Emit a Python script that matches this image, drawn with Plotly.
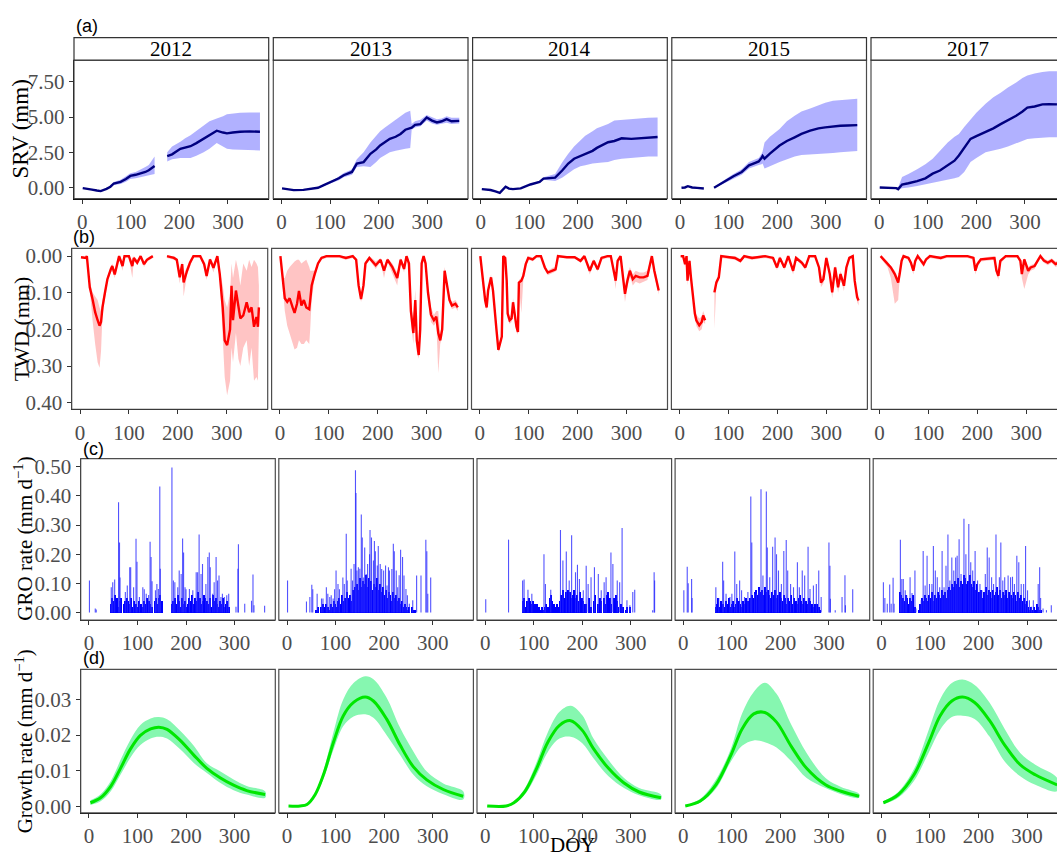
import plotly.graph_objects as go

W, H = 1080, 860
years = ["2012", "2013", "2014", "2015", "2017"]

# ---------------- (a) SRV ----------------
srv_doy_2012 = [1, 10, 20, 30, 38, 50, 58, 65, 79, 90, 99, 110, 120, 130, 137, 149, 160, 175, 185, 202, 212, 223, 235, 250, 262, 277, 290, 298, 310, 325, 345, 366]
srv_mean_2012 = [-0.05, -0.08, -0.15, -0.22, -0.26, -0.1, 0.05, 0.28, 0.4, 0.6, 0.82, 0.9, 0.98, 1.1, 1.22, 1.52, None, 2.23, 2.35, 2.74, 2.85, 2.93, 3.15, 3.45, 3.7, 4.03, 3.9, 3.84, 3.9, 3.96, 3.98, 3.96]
srv_lo_2012 = [-0.08, -0.1, -0.17, -0.24, -0.28, -0.13, 0.0, 0.18, 0.25, 0.4, 0.6, 0.65, 0.7, 0.78, 0.85, 0.95, None, 1.85, 2.0, 2.1, 2.1, 2.1, 2.25, 2.5, 2.75, 3.15, 2.9, 2.75, 2.7, 2.65, 2.65, 2.63]
srv_hi_2012 = [-0.02, -0.05, -0.12, -0.2, -0.23, -0.07, 0.1, 0.38, 0.55, 0.8, 1.0, 1.1, 1.25, 1.45, 1.6, 2.2, None, 2.5, 2.9, 3.25, 3.5, 3.7, 4.0, 4.4, 4.7, 4.9, 5.05, 5.2, 5.25, 5.3, 5.32, 5.32]

srv_doy_2013 = [1, 25, 45, 60, 75, 87, 100, 108, 118, 128, 140, 145, 155, 169, 183, 195, 203, 213, 223, 235, 245, 255, 265, 268, 275, 286, 299, 310, 320, 330, 340, 350, 366]
srv_mean_2013 = [-0.07, -0.19, -0.17, -0.12, -0.02, 0.16, 0.35, 0.47, 0.65, 0.87, 1.0, 1.1, 1.69, 1.8, 2.39, 2.7, 2.98, 3.2, 3.45, 3.6, 3.8, 4.1, 4.2, 4.25, 4.45, 4.5, 4.97, 4.75, 4.62, 4.7, 4.85, 4.7, 4.73]
srv_lo_2013 = [-0.09, -0.21, -0.19, -0.14, -0.05, 0.12, 0.28, 0.38, 0.52, 0.72, 0.85, 0.9, 1.45, 1.5, 1.45, 1.8, 2.1, 2.3, 2.5, 2.6, 2.7, 2.75, 2.8, 4.1, 4.25, 4.35, 4.75, 4.55, 4.45, 4.5, 4.6, 4.5, 4.55]
srv_hi_2013 = [-0.05, -0.17, -0.15, -0.1, 0.01, 0.2, 0.42, 0.56, 0.78, 1.02, 1.2, 1.3, 2.0, 2.5, 3.2, 3.7, 4.0, 4.25, 4.5, 4.8, 5.0, 5.3, 5.44, 4.5, 4.7, 4.8, 5.15, 5.0, 4.85, 4.9, 5.05, 4.95, 4.95]

srv_doy_2014 = [2, 20, 30, 39, 51, 58, 66, 82, 102, 121, 129, 140, 153, 168, 180, 192, 205, 215, 230, 239, 250, 262, 275, 290, 310, 325, 345, 364]
srv_mean_2014 = [-0.12, -0.18, -0.28, -0.38, 0.05, -0.08, -0.12, -0.07, 0.21, 0.4, 0.63, 0.65, 0.7, 1.22, 1.7, 2.04, 2.25, 2.39, 2.6, 2.81, 3.0, 3.21, 3.3, 3.49, 3.45, 3.49, 3.52, 3.58]
srv_lo_2014 = [-0.15, -0.21, -0.31, -0.41, 0.02, -0.11, -0.15, -0.1, 0.18, 0.33, 0.55, 0.5, 0.45, 0.7, 1.0, 1.3, 1.5, 1.57, 1.7, 1.75, 1.78, 1.8, 1.95, 2.04, 2.1, 2.15, 2.2, 2.2]
srv_hi_2014 = [-0.09, -0.15, -0.25, -0.35, 0.08, -0.05, -0.09, -0.04, 0.24, 0.47, 0.72, 0.82, 0.95, 1.8, 2.4, 2.9, 3.35, 3.68, 4.0, 4.2, 4.35, 4.5, 4.75, 4.8, 4.85, 4.9, 4.95, 4.97]

srv_doy_2015 = [3, 10, 16, 25, 35, 49, 60, 70, 80, 95, 110, 127, 142, 155, 162, 168, 170, 174, 185, 205, 220, 236, 250, 268, 285, 299, 315, 330, 345, 365]
srv_mean_2015 = [-0.02, 0.0, 0.09, 0.0, -0.03, -0.07, None, -0.02, 0.2, 0.52, 0.8, 1.1, 1.57, 1.75, 1.85, 2.1, 2.23, 2.04, 2.4, 2.98, 3.3, 3.56, 3.8, 4.03, 4.2, 4.27, 4.35, 4.38, 4.4, 4.43]
srv_lo_2015 = [-0.04, -0.02, 0.07, -0.02, -0.05, -0.09, None, -0.05, 0.12, 0.4, 0.62, 0.9, 1.35, 1.5, 1.6, 1.65, 1.7, 1.34, 1.5, 1.8, 2.0, 2.2, 2.3, 2.35, 2.4, 2.4, 2.45, 2.5, 2.55, 2.58]
srv_hi_2015 = [0.0, 0.02, 0.11, 0.02, -0.01, -0.05, None, 0.02, 0.28, 0.62, 0.95, 1.3, 1.8, 2.0, 2.1, 2.4, 2.55, 3.2, 3.6, 4.15, 4.7, 5.1, 5.4, 5.6, 5.85, 6.02, 6.15, 6.2, 6.25, 6.3]

srv_doy_2017 = [1, 20, 35, 39, 47, 60, 78, 95, 110, 125, 141, 155, 164, 175, 188, 200, 219, 235, 250, 265, 282, 295, 305, 320, 336, 350, 366]
srv_mean_2017 = [0.0, 0.0, -0.05, -0.12, 0.21, 0.3, 0.45, 0.65, 0.98, 1.2, 1.57, 1.9, 2.27, 2.8, 3.45, 3.65, 3.92, 4.2, 4.5, 4.75, 5.09, 5.4, 5.67, 5.75, 5.9, 5.92, 5.9]
srv_lo_2017 = [-0.03, -0.03, -0.08, -0.15, -0.05, 0.0, 0.1, 0.2, 0.28, 0.4, 0.55, 0.65, 0.75, 1.1, 1.8, 2.1, 2.5, 2.65, 2.74, 2.9, 3.1, 3.3, 3.45, 3.5, 3.55, 3.56, 3.56]
srv_hi_2017 = [0.03, 0.03, 0.0, 0.0, 0.75, 0.95, 1.3, 1.65, 2.04, 2.6, 3.2, 3.6, 3.8, 4.3, 4.85, 5.3, 5.95, 6.4, 6.72, 7.1, 7.45, 7.78, 7.95, 8.1, 8.2, 8.25, 8.25]

# ---------------- (b) TWD ----------------
twd_doy_2012 = [2, 12, 14, 17, 20, 26, 31, 36, 40, 43, 46, 51, 56, 63, 66, 71, 77, 80, 87, 91, 100, 107, 110, 117, 124, 131, 137, 144, 149, 160, 178, 192, 198, 204, 209, 212, 219, 225, 232, 246, 254, 259, 266, 273, 281, 286, 292, 296, 301, 307, 310, 313, 319, 324, 328, 334, 341, 346, 351, 356, 361, 364, 366]
twd_mean_2012 = [.003, .005, .000, .040, .085, .120, .153, .175, .190, .180, .140, .100, .063, .036, .027, .050, .013, .000, .027, .000, .000, .027, .005, .018, .000, .022, .010, .005, .000, None, .000, .005, .010, .058, .022, .072, .040, .018, .000, .000, .022, .054, .009, .032, .000, .050, .140, .230, .243, .200, .081, .175, .094, .130, .170, .162, .126, .153, .140, .193, .166, .193, .140]
twd_min_2012 = [.000, .002, .000, .030, .070, .100, .110, .120, .140, .150, .120, .090, .055, .030, .020, .040, .005, .000, .015, .000, .000, .015, .000, .010, .000, .015, .005, .000, .000, None, .000, .000, .005, .040, .015, .050, .030, .010, .000, .000, .015, .040, .005, .020, .000, .040, .080, .120, .140, .100, .020, .060, .010, .040, .080, .020, .040, .010, .030, .010, .020, .030, .080]
twd_max_2012 = [.006, .008, .004, .050, .100, .180, .240, .290, .305, .260, .160, .110, .070, .045, .040, .060, .020, .005, .040, .005, .005, .060, .010, .025, .005, .030, .015, .010, .005, None, .005, .010, .015, .075, .030, .110, .050, .030, .005, .005, .030, .065, .015, .045, .005, .060, .220, .330, .380, .340, .250, .290, .210, .280, .300, .250, .230, .300, .250, .340, .330, .340, .200]

twd_doy_2013 = [1, 4, 7, 10, 15, 20, 26, 30, 35, 39, 44, 49, 54, 60, 62, 65, 71, 78, 85, 95, 122, 135, 149, 156, 161, 166, 171, 175, 183, 196, 206, 213, 220, 230, 240, 247, 254, 259, 264, 268, 273, 277, 280, 284, 287, 290, 294, 298, 303, 309, 315, 320, 324, 328, 332, 335, 337, 342, 347, 352, 359, 364]
twd_mean_2013 = [.000, .040, .085, .115, .125, .115, .140, .155, .130, .095, .135, .120, .140, .145, .120, .080, .050, .020, .005, .000, .000, .005, .000, .010, .080, .117, .080, .020, .005, .025, .010, .040, .010, .030, .060, .010, .035, .000, .020, .150, .210, .120, .230, .270, .200, .020, .000, .020, .100, .160, .175, .165, .210, .230, .200, .080, .040, .080, .120, .135, .130, .140]
twd_min_2013 = [.000, .020, .060, .060, .040, .030, .020, .015, .010, .010, .020, .015, .010, .030, .040, .040, .040, .015, .000, .000, .000, .000, .000, .005, .070, .105, .070, .015, .000, .015, .005, .030, .005, .020, .045, .005, .025, .000, .010, .120, .180, .090, .200, .240, .170, .010, .000, .010, .080, .140, .160, .150, .150, .210, .180, .060, .030, .070, .110, .125, .120, .130]
twd_max_2013 = [.005, .060, .110, .150, .190, .210, .240, .255, .250, .230, .240, .240, .230, .240, .200, .120, .060, .025, .010, .005, .005, .010, .005, .015, .090, .125, .090, .025, .010, .035, .015, .060, .015, .045, .080, .015, .045, .005, .040, .180, .240, .150, .260, .280, .230, .030, .005, .030, .120, .180, .190, .180, .320, .240, .220, .100, .050, .090, .130, .145, .140, .150]

twd_doy_2014 = [1, 5, 8, 11, 14, 17, 20, 23, 27, 30, 34, 38, 41, 45, 48, 52, 55, 57, 61, 65, 68, 71, 75, 78, 80, 85, 89, 94, 99, 108, 116, 125, 133, 139, 149, 155, 160, 178, 194, 206, 214, 225, 233, 241, 249, 261, 268, 274, 278, 282, 288, 293, 297, 302, 307, 313, 319, 327, 335, 343, 348, 352, 357, 362, 366]
twd_mean_2014 = [.000, .040, .085, .121, .140, .094, .072, .058, .094, .148, .200, .256, .243, .220, .000, .005, .067, .157, .175, .170, .126, .157, .193, .207, .072, .067, .054, .022, .005, .009, .000, .000, .031, .045, .039, .036, .000, .003, .003, .013, .000, .040, .013, .036, .005, .000, .000, .040, .067, .013, .000, .058, .103, .067, .040, .063, .054, .058, .058, .054, .022, .000, .040, .067, .094]
twd_min_2014 = [.000, .030, .075, .110, .130, .085, .065, .050, .085, .140, .190, .245, .235, .210, .000, .000, .055, .145, .165, .160, .115, .145, .180, .195, .065, .060, .045, .015, .000, .004, .000, .000, .025, .040, .032, .030, .000, .000, .000, .008, .000, .030, .008, .030, .000, .000, .000, .030, .050, .008, .000, .040, .080, .050, .030, .050, .040, .045, .045, .040, .015, .000, .030, .055, .085]
twd_max_2014 = [.005, .050, .095, .130, .150, .105, .080, .065, .105, .155, .210, .262, .250, .230, .005, .010, .080, .170, .185, .180, .135, .170, .205, .215, .080, .155, .065, .030, .010, .014, .005, .005, .038, .052, .046, .042, .005, .006, .006, .018, .005, .050, .020, .042, .010, .005, .005, .050, .090, .020, .005, .075, .125, .085, .055, .080, .070, .075, .070, .065, .030, .005, .050, .080, .105]

twd_doy_2015 = [2, 7, 11, 14, 16, 20, 23, 27, 31, 34, 40, 45, 48, 52, 60, 71, 75, 80, 85, 113, 124, 132, 148, 175, 191, 199, 205, 214, 222, 232, 238, 250, 257, 265, 277, 285, 289, 294, 300, 307, 312, 318, 324, 329, 336, 341, 347, 354, 358, 363, 366]
twd_mean_2015 = [.000, .000, .022, .000, .067, .013, .058, .112, .157, .175, .189, .180, .162, .175, None, .099, .072, .058, .000, .005, .013, .000, .005, .000, .005, .031, .005, .031, .000, .040, .005, .018, .031, .000, .000, .031, .072, .063, .005, .049, .099, .031, .085, .049, .081, .031, .005, .000, .067, .112, .121]
twd_min_2015 = [.000, .000, .015, .000, .055, .008, .050, .100, .145, .160, .170, .165, .150, .165, None, .090, .065, .050, .000, .000, .008, .000, .000, .000, .000, .025, .000, .025, .000, .030, .000, .012, .025, .000, .000, .025, .060, .050, .000, .040, .085, .025, .070, .040, .070, .025, .000, .000, .055, .100, .110]
twd_max_2015 = [.005, .005, .030, .005, .080, .018, .065, .125, .170, .190, .205, .200, .180, .185, None, .198, .080, .065, .005, .010, .018, .005, .010, .005, .010, .038, .010, .038, .005, .050, .010, .025, .038, .005, .005, .038, .085, .075, .010, .060, .115, .040, .100, .060, .095, .040, .010, .005, .080, .125, .135]

twd_doy_2017 = [2, 8, 16, 23, 31, 38, 41, 45, 49, 59, 64, 69, 73, 78, 90, 95, 103, 125, 137, 156, 180, 192, 196, 200, 207, 235, 239, 243, 247, 258, 282, 288, 291, 296, 304, 309, 317, 325, 329, 336, 344, 352, 360, 366]
twd_mean_2017 = [.000, .009, .022, .031, .049, .072, .049, .013, .000, .005, .018, .040, .013, .000, .022, .009, .000, .005, .000, .000, .000, .005, .040, .022, .009, .005, .040, .054, .013, .000, .000, .013, .049, .009, .040, .031, .027, .009, .000, .012, .018, .012, .022, .018]
twd_min_2017 = [.000, .005, .015, .025, .040, .060, .040, .008, .000, .000, .012, .030, .008, .000, .015, .005, .000, .000, .000, .000, .000, .000, .030, .015, .005, .000, .030, .045, .008, .000, .000, .008, .040, .005, .030, .025, .020, .005, .000, .006, .012, .006, .015, .012]
twd_max_2017 = [.005, .015, .030, .060, .130, .120, .060, .020, .005, .010, .025, .050, .020, .005, .030, .015, .005, .010, .005, .005, .005, .010, .050, .030, .015, .010, .050, .065, .020, .005, .005, .020, .060, .090, .050, .040, .035, .015, .005, .018, .025, .018, .030, .025]

# ---------------- (c) GRO rate ----------------
gro_spike_doy_2012 = [1, 13, 15, 46, 49, 53, 61, 63, 64, 75, 79, 84, 86, 92, 97, 99, 104, 111, 114, 118, 123, 126, 128, 130, 137, 140, 143, 146, 147, 171, 174, 177, 183, 186, 190, 193, 195, 198, 200, 207, 214, 221, 224, 227, 231, 234, 241, 245, 248, 250, 255, 258, 262, 265, 268, 272, 275, 279, 284, 288, 303, 307, 308, 321, 335, 338, 340, 362]
gro_spike_val_2012 = [.11, .014, .01, .087, .104, .113, .378, .24, .12, .07, .093, .155, .155, .087, .253, .174, .053, .087, .08, .064, .06, .243, .19, .107, .076, .098, .081, .432, .15, .498, .11, .104, .087, .144, .132, .254, .206, .087, .08, .081, .076, .138, .138, .268, .132, .166, .098, .19, .206, .155, .064, .104, .19, .11, .127, .053, .064, .053, .059, .064, .02, .15, .234, .03, .04, .13, .025, .023]
gro_base_start_2012 = [45, 171]
gro_base_val_2012 = [
    [.03, .05, .04, .06, .05, .02, .04, .05, 0, .03, .04, .05, .04, .03, .05, .02, .04, .03, .02, .04, 0, .03, .02, .04, .03, .05, .04, .03, .02, 0, .04, .05, .03, .05, .06, .04],
    [.03, .04, .05, .03, .06, .04, .02, .05, .03, .04, .02, .03, .05, .04, .06, .03, .05, .04, .07, .05, .03, .04, .06, .05, .04, .03, .05, .02, .06, .04, .05, .03, .02, .04, .03, .05, .02, .03, .04, .02],
]

gro_spike_doy_2013 = [1, 40, 47, 51, 53, 62, 71, 74, 81, 84, 88, 91, 95, 98, 101, 105, 108, 115, 118, 122, 124, 132, 135, 138, 141, 142, 144, 147, 150, 153, 155, 158, 160, 163, 166, 170, 171, 174, 178, 180, 182, 186, 188, 192, 195, 199, 203, 206, 209, 211, 216, 219, 221, 225, 228, 231, 234, 238, 241, 245, 248, 252, 259, 267, 276, 286, 288, 290, 296]
gro_spike_val_2013 = [.11, .038, .053, .095, .08, .064, .048, .048, .087, .064, .053, .059, .048, .08, .144, .098, .08, .12, .098, .27, .11, .15, .11, .166, .488, .41, .144, .155, .15, .336, .257, .12, .223, .132, .166, .2, .283, .257, .178, .245, .21, .161, .228, .166, .149, .144, .161, .093, .155, .144, .149, .236, .21, .144, .087, .128, .215, .19, .127, .081, .059, .03, .042, .127, .127, .25, .21, .064, .12]
gro_base_start_2013 = [60]
gro_base_val_2013 = [
    [.01, .02, .0, .02, .01, .03, .02, .03, .02, .01, .03, .02, .04, .03, .02,
     .04, .05, .03, .06, .04, .05, .07, .05, .06, .04, .08, .07, .09,
     .1, .08, .12, .09, .11, .1, .13, .09, .12, .1, .11, .08, .1, .09, .12, .08, .1, .07, .09, .06,
     .08, .05, .07, .06, .04, .07, .05, .06, .04, .05, .03, .04, .02, .03, .02, .01, .02, .0, .02, .01, .01],
]

gro_spike_doy_2014 = [1, 48, 77, 80, 88, 96, 121, 124, 135, 155, 160, 167, 173, 178, 186, 190, 194, 202, 208, 212, 218, 225, 233, 239, 245, 249, 259, 263, 272, 277, 282, 292, 298, 304, 308, 345, 348, 349]
gro_spike_val_2014 = [.045, .25, .11, .113, .078, .064, .2, .098, .078, .283, .178, .209, .11, .265, .138, .164, .115, .076, .16, .098, .121, .155, .132, .076, .104, .121, .206, .166, .11, .104, .29, .042, .025, .07, .078, .008, .138, .11]
gro_base_start_2014 = [78, 133, 209]
gro_base_val_2014 = [
    [.04, .05, .02, .04, .05, .04, .03, .04, .03, .02, .03, .02, .01, .02, .01, .02, .03, .02],
    [.05, .06, .04, .03, .02, .03, .02, .04, .06, .08, .05, .07, .06, .08, .07, .05, .06, .08, .05, .06, .04, .07, .05, .04, .03],
    [.03, 0, .05, .02, 0, .04, .06, 0, .03, .05, .04, 0, .05, .03, .06, .07, .05, .03, 0, .05, .06, .04, .02, 0, .03, .02, 0, .01, .02, 0, .02],
]

gro_spike_doy_2015 = [1, 8, 10, 17, 18, 67, 73, 81, 83, 88, 96, 100, 106, 110, 116, 120, 126, 133, 139, 141, 147, 151, 156, 160, 164, 171, 173, 178, 184, 189, 192, 196, 202, 207, 212, 215, 221, 227, 235, 239, 245, 250, 257, 261, 268, 274, 279, 284, 300, 302, 303, 313, 327, 333, 334, 349]
gro_spike_val_2015 = [.076, .157, .1, .115, .05, .087, .05, .174, .11, .064, .053, .064, .209, .098, .11, .076, .053, .07, .398, .24, .064, .064, .076, .423, .127, .415, .223, .121, .226, .257, .2, .144, .098, .211, .249, .144, .098, .087, .172, .087, .144, .127, .226, .081, .093, .098, .144, .053, .24, .16, .047, .008, .053, .128, .025, .08]
gro_base_start_2015 = [67]
gro_base_val_2015 = [
    [.02, .03, .05, .02, .04, .03, .02, .04, .03, .05, .02, .03, .04, .02, .03, .05, .04, .03, .02, .04, .03, .05, .04, .03, .05,
     .06, .05, .07, .08, .06, .09, .07, .08, .06, .09, .07, .08, .06, .05, .07, .06, .08, .05, .06, .07,
     .05, .04, .06, .05, .03, .05, .04, .06, .03, .05, .04, .03, .05, .06, .04, .03, .05, .04, .03, .05, .04, .03, .02, .03, .02, .03, .02, .01],
]

gro_spike_doy_2017 = [4, 7, 12, 17, 20, 24, 26, 39, 42, 45, 49, 52, 59, 63, 69, 71, 82, 86, 90, 94, 99, 104, 107, 111, 115, 120, 125, 129, 133, 137, 141, 145, 149, 153, 156, 160, 164, 170, 174, 180, 184, 188, 193, 198, 203, 207, 214, 218, 222, 227, 231, 236, 243, 246, 250, 254, 261, 266, 270, 274, 279, 283, 288, 293, 297, 301, 305, 309, 313, 323, 326, 328, 333, 340, 350]
gro_spike_val_2017 = [.104, .05, .03, .096, .03, .119, .03, .25, .115, .115, .076, .059, .121, .067, .144, .014, .042, .211, .093, .195, .098, .098, .228, .144, .121, .087, .211, .087, .16, .268, .11, .189, .144, .189, .195, .251, .132, .322, .2, .304, .172, .144, .211, .11, .098, .076, .132, .223, .189, .121, .098, .268, .121, .24, .11, .121, .127, .121, .123, .098, .195, .172, .098, .098, .228, .076, .042, .02, .042, .098, .155, .05, .014, .008, .025]
gro_base_start_2017 = [39]
gro_base_val_2017 = [
    [.07, .06, .05, .04, .06, .05, .03, .05, .04, .06, .02,
     0, 0, .01,
     .03, .05, .04, .06, .05, .04, .06, .05, .07, .04, .06, .05, .07, .06, .05, .08, .06, .07, .05, .08,
     .09, .08, .1, .09, .11, .1, .12, .09, .11, .1, .13, .12, .1, .11, .13, .1, .09, .11, .08, .1,
     .07, .06, .08, .05, .07, .09, .06, .08, .07, .05, .08, .06, .07, .09, .06, .08, .05, .07, .06, .08, .05, .07, .06, .05, .07, .06, .04, .07, .05, .06, .04, .05, .03, .04,
     .02, .01, .02, .01, .02, .01, .03, .02, .01, .01],
]
GRO_BASE_STEP = 3

# ---------------- (d) Growth rate ----------------
gr_doy_2012 = [3, 24, 45, 65, 86, 106, 127, 144, 161, 188, 216, 243, 271, 298, 325, 363]
gr_mean_2012 = [.0011, .0025, .0057, .0107, .0162, .0199, .0217, .0222, .0216, .0185, .0144, .0107, .0080, .0060, .0045, .0034]
gr_hi_2012 = [.0018, .0035, .0072, .0130, .0188, .0228, .0246, .0250, .0244, .0212, .0170, .0121, .0098, .0076, .0058, .0043]
gr_lo_2012 = [.0005, .0015, .0043, .0089, .0138, .0172, .0190, .0195, .0190, .0160, .0122, .0094, .0066, .0046, .0034, .0025]

gr_doy_2013 = [3, 27, 41, 58, 75, 96, 116, 137, 161, 178, 205, 233, 260, 288, 322, 363]
gr_mean_2013 = [.0002, .0002, .0006, .0034, .0089, .0181, .0254, .0291, .0306, .0295, .0245, .0172, .0112, .0075, .0048, .0029]
gr_hi_2013 = [.0002, .0002, .0007, .0038, .0100, .0210, .0300, .0345, .0364, .0356, .0305, .0220, .0155, .0098, .0065, .0043]
gr_lo_2013 = [.0002, .0002, .0005, .0030, .0078, .0160, .0225, .0252, .0258, .0248, .0200, .0144, .0090, .0057, .0035, .0020]

gr_doy_2014 = [4, 43, 59, 82, 106, 129, 153, 176, 200, 223, 254, 286, 317, 362]
gr_mean_2014 = [.0002, .0002, .0011, .0043, .0107, .0180, .0227, .0240, .0213, .0162, .0107, .0066, .0041, .0025]
gr_hi_2014 = [.0002, .0003, .0014, .0052, .0125, .0208, .0265, .0282, .0255, .0190, .0130, .0080, .0052, .0034]
gr_lo_2014 = [.0002, .0002, .0008, .0035, .0090, .0153, .0190, .0195, .0177, .0135, .0085, .0052, .0032, .0020]

gr_doy_2015 = [4, 35, 67, 98, 121, 145, 168, 192, 223, 254, 293, 325, 362]
gr_mean_2015 = [.0002, .0016, .0061, .0144, .0217, .0259, .0263, .0236, .0167, .0107, .0061, .0043, .0029]
gr_hi_2015 = [.0004, .0022, .0075, .0162, .0260, .0320, .0346, .0315, .0227, .0150, .0080, .0055, .0036]
gr_lo_2015 = [.0001, .0012, .0050, .0126, .0170, .0185, .0180, .0165, .0126, .0080, .0052, .0035, .0025]

gr_doy_2017 = [4, 35, 67, 98, 121, 145, 167, 192, 223, 254, 286, 317, 362]
gr_mean_2017 = [.0011, .0034, .0089, .0181, .0254, .0295, .0306, .0291, .0240, .0172, .0117, .0089, .0061]
gr_hi_2017 = [.0015, .0042, .0105, .0217, .0300, .0345, .0355, .0340, .0290, .0217, .0150, .0117, .0080]
gr_lo_2017 = [.0007, .0026, .0072, .0153, .0215, .0250, .0254, .0245, .0195, .0126, .0085, .0061, .0043]

# tick labels
x_ticks = [0, 100, 200, 300]
srv_ticks = [0, 2.5, 5, 7.5]
srv_ticktext = ["0.00", "2.50", "5.00", "7.50"]
twd_ticks = [0, 0.1, 0.2, 0.3, 0.4]
twd_ticktext = ["0.00", "0.10", "0.20", "0.30", "0.40"]
gro_ticks = [0, 0.1, 0.2, 0.3, 0.4, 0.5]
gro_ticktext = ["0.00", "0.10", "0.20", "0.30", "0.40", "0.50"]
gr_ticks = [0, 0.01, 0.02, 0.03]
gr_ticktext = ["0.00", "0.01", "0.02", "0.03"]

G = globals()

# ---------------- layout geometry (pixels) ----------------
rows = [
    dict(top=56.7, bottom=197.0, lefts=[74.0, 273.3, 472.6, 671.8, 871.0], width=194.7,
         yrange=[-0.8, 9.05], tv=srv_ticks, tt=srv_ticktext),
    dict(top=247.3, bottom=410.0, lefts=[71.7, 271.6, 471.5, 671.4, 871.3], width=196.0,
         yrange=[0.418, -0.021], tv=twd_ticks, tt=twd_ticktext),
    dict(top=460.0, bottom=623.3, lefts=[80.7, 278.8, 477.0, 675.1, 873.2], width=194.6,
         yrange=[-0.026, 0.528], tv=gro_ticks, tt=gro_ticktext),
    dict(top=673.3, bottom=818.3, lefts=[80.7, 278.8, 477.0, 675.1, 873.2], width=194.6,
         yrange=[-0.0017, 0.0383], tv=gr_ticks, tt=gr_ticktext),
]

SERIF = "Liberation Serif"
SANS = "Liberation Sans"
TICKFONT = dict(family=SERIF, size=21, color="#4d4d4d")

fig = go.Figure()
layout = dict(width=W, height=H, margin=dict(l=0, r=0, t=0, b=0),
              paper_bgcolor="white", plot_bgcolor="white", showlegend=False,
              barmode="overlay", bargap=0, font=dict(family=SERIF))
shapes = []
annotations = []


def px_x(p):
    return p / W


def px_y(p):
    return 1 - p / H


def segments(xs, *arrs):
    segs, cur = [], None
    for i, x in enumerate(xs):
        if arrs[0][i] is None:
            cur = None
            continue
        if cur is None:
            cur = [[] for _ in range(len(arrs) + 1)]
            segs.append(cur)
        cur[0].append(x)
        for j, a in enumerate(arrs):
            cur[j + 1].append(a[i])
    return segs


for r, row in enumerate(rows):
    for c, yr in enumerate(years):
        k = r * 5 + c + 1
        xs = "x" if k == 1 else f"x{k}"
        ys = "y" if k == 1 else f"y{k}"
        xa = "xaxis" if k == 1 else f"xaxis{k}"
        ya = "yaxis" if k == 1 else f"yaxis{k}"
        x0 = row["lefts"][c]
        x1 = x0 + row["width"]
        layout[xa] = dict(domain=[px_x(x0), px_x(x1)], anchor=ys, range=[-17, 384],
                          tickvals=x_ticks, ticks="outside", ticklen=4, tickwidth=1,
                          tickcolor="#333333", showline=True, linecolor="black", linewidth=1.4,
                          showgrid=False, zeroline=False, tickfont=TICKFONT)
        first = (c == 0)
        layout[ya] = dict(domain=[px_y(row["bottom"]), px_y(row["top"])], anchor=xs,
                          range=row["yrange"], tickvals=row["tv"], ticktext=row["tt"],
                          ticks="outside" if first else "", ticklen=4, tickwidth=1,
                          tickcolor="#333333", showticklabels=first,
                          showline=first, linecolor="black", linewidth=1.4,
                          showgrid=False, zeroline=False, tickfont=TICKFONT)
        shapes.append(dict(type="rect", xref="paper", yref="paper",
                           x0=px_x(x0), x1=px_x(x1), y0=px_y(row["bottom"]), y1=px_y(row["top"]),
                           line=dict(color="#4d4d4d", width=1.2), fillcolor="rgba(0,0,0,0)", layer="above"))

        if r == 0:
            doy, mean, lo, hi = (G[f"srv_doy_{yr}"], G[f"srv_mean_{yr}"],
                                 G[f"srv_lo_{yr}"], G[f"srv_hi_{yr}"])
            for sx, sm, sl, sh in segments(doy, mean, lo, hi):
                fig.add_trace(go.Scatter(x=sx + sx[::-1], y=sh + sl[::-1], fill="toself",
                                         fillcolor="rgba(40,40,255,0.36)", line=dict(width=0),
                                         mode="lines", xaxis=xs, yaxis=ys, hoverinfo="skip"))
            for sx, sm, sl, sh in segments(doy, mean, lo, hi):
                fig.add_trace(go.Scatter(x=sx, y=sm, mode="lines",
                                         line=dict(color="#00007f", width=2.4),
                                         xaxis=xs, yaxis=ys))
        elif r == 1:
            doy, mean, lo, hi = (G[f"twd_doy_{yr}"], G[f"twd_mean_{yr}"],
                                 G[f"twd_min_{yr}"], G[f"twd_max_{yr}"])
            for sx, sm, sl, sh in segments(doy, mean, lo, hi):
                fig.add_trace(go.Scatter(x=sx + sx[::-1], y=sh + sl[::-1], fill="toself",
                                         fillcolor="rgba(255,60,60,0.3)", line=dict(width=0),
                                         mode="lines", xaxis=xs, yaxis=ys, hoverinfo="skip"))
            for sx, sm, sl, sh in segments(doy, mean, lo, hi):
                fig.add_trace(go.Scatter(x=sx, y=sm, mode="lines",
                                         line=dict(color="#ff0000", width=2.4),
                                         xaxis=xs, yaxis=ys))
        elif r == 2:
            bx, by = [], []
            for st, vals in zip(G[f"gro_base_start_{yr}"], G[f"gro_base_val_{yr}"]):
                for i, v in enumerate(vals):
                    bx.append(st + GRO_BASE_STEP * i)
                    by.append(v)
            fig.add_trace(go.Bar(x=bx, y=by, width=GRO_BASE_STEP, marker=dict(color="#0000ff", line=dict(width=0)),
                                 xaxis=xs, yaxis=ys))
            sxs, sys_ = [], []
            for d, v in zip(G[f"gro_spike_doy_{yr}"], G[f"gro_spike_val_{yr}"]):
                sxs += [d, d, None]
                sys_ += [0, v, None]
            fig.add_trace(go.Scatter(x=sxs, y=sys_, mode="lines",
                                     line=dict(color="rgba(40,40,255,0.8)", width=1.1),
                                     xaxis=xs, yaxis=ys))
        else:
            doy, mean, lo, hi = (G[f"gr_doy_{yr}"], G[f"gr_mean_{yr}"],
                                 G[f"gr_lo_{yr}"], G[f"gr_hi_{yr}"])
            fig.add_trace(go.Scatter(x=doy + doy[::-1], y=hi + lo[::-1], fill="toself",
                                     fillcolor="#86f7b0", line=dict(width=0, shape="spline"),
                                     mode="lines", xaxis=xs, yaxis=ys, hoverinfo="skip"))
            fig.add_trace(go.Scatter(x=doy, y=mean, mode="lines",
                                     line=dict(color="#00e600", width=3, shape="spline"),
                                     xaxis=xs, yaxis=ys))

        if r == 0:
            shapes.append(dict(type="rect", xref="paper", yref="paper",
                               x0=px_x(x0), x1=px_x(x1), y0=px_y(56.7), y1=px_y(34.0),
                               line=dict(color="#333333", width=1.2), fillcolor="white"))
            annotations.append(dict(x=px_x((x0 + x1) / 2), y=px_y(45.5), xref="paper", yref="paper",
                                    text=yr, showarrow=False, xanchor="center", yanchor="middle",
                                    font=dict(family=SERIF, size=21, color="black")))

# panel letters
for lab, lx, ly in [("(a)", 74, 22), ("(b)", 71, 236), ("(c)", 81, 450), ("(d)", 81, 662)]:
    annotations.append(dict(x=px_x(lx), y=px_y(ly), xref="paper", yref="paper", text=lab,
                            showarrow=False, xanchor="left", yanchor="middle",
                            font=dict(family=SANS, size=18, color="black")))

# y titles
for txt, tx, ty, fs in [("SRV (mm)", 21, 127, 23), ("TWD (mm)", 21, 329, 22),
                        ("GRO rate (mm d<sup>−1</sup>)", 24, 541, 21),
                        ("Growth rate (mm d<sup>−1</sup>)", 24, 746, 21)]:
    annotations.append(dict(x=px_x(tx), y=px_y(ty), xref="paper", yref="paper", text=txt,
                            showarrow=False, textangle=-90, xanchor="center", yanchor="middle",
                            font=dict(family=SERIF, size=fs, color="black")))

annotations.append(dict(x=px_x(573), y=px_y(851), xref="paper", yref="paper", text="DOY",
                        showarrow=False, xanchor="center", yanchor="middle",
                        font=dict(family=SERIF, size=21, color="black")))

layout["shapes"] = shapes
layout["annotations"] = annotations
fig.update_layout(**layout)

fig.write_html("out.html", config={"displayModeBar": False},
               post_script="document.body.style.margin='0';document.body.style.overflow='hidden';")
